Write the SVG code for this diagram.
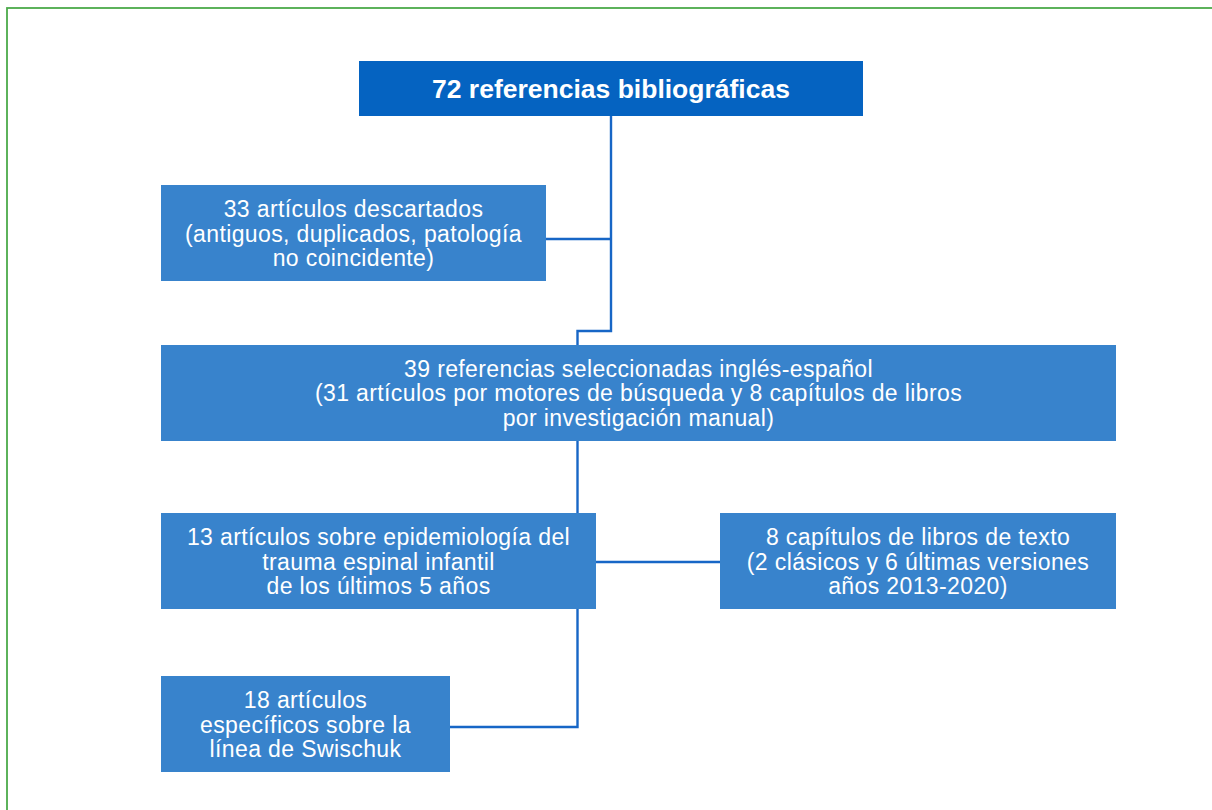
<svg xmlns="http://www.w3.org/2000/svg" width="1212" height="810" viewBox="0 0 1212 810">
<style>
.box{fill:#3883cc}
.top{fill:#0563c1}
.t{font-family:"Liberation Sans",Arial,sans-serif;font-size:23px;letter-spacing:0.38px;fill:#ffffff;text-anchor:middle}
.tb{font-family:"Liberation Sans",Arial,sans-serif;font-size:26.5px;font-weight:bold;fill:#ffffff;text-anchor:middle}
.c{fill:none;stroke:#1766c6;stroke-width:2.4}
</style>
<rect x="7" y="8" width="1230" height="830" fill="#ffffff" stroke="#4caa4a" stroke-width="1.8"/>
<g id="connectors">
<polyline class="c" points="611,116 611,331 577.5,331 577.5,345"/>
<line class="c" x1="546" y1="239" x2="611" y2="239"/>
<line class="c" x1="577.5" y1="441" x2="577.5" y2="513"/>
<line class="c" x1="596" y1="562" x2="720" y2="562"/>
<polyline class="c" points="577.5,609 577.5,727 450,727"/>
</g>
<g id="node-72">
<rect class="top" x="359" y="61" width="504" height="55"/>
<text class="tb" x="611" y="98">72 referencias bibliográficas</text>
</g>
<g id="node-33">
<rect class="box" x="161" y="185" width="385" height="96"/>
<text class="t" x="353.5" y="217">33 artículos descartados</text>
<text class="t" x="353.5" y="242">(antiguos, duplicados, patología</text>
<text class="t" x="353.5" y="266">no coincidente)</text>
</g>
<g id="node-39">
<rect class="box" x="161" y="345" width="955" height="96"/>
<text class="t" x="638.5" y="377">39 referencias seleccionadas inglés-español</text>
<text class="t" x="638.5" y="401">(31 artículos por motores de búsqueda y 8 capítulos de libros</text>
<text class="t" x="638.5" y="426">por investigación manual)</text>
</g>
<g id="node-13">
<rect class="box" x="161" y="513" width="435" height="96"/>
<text class="t" x="378.5" y="545">13 artículos sobre epidemiología del</text>
<text class="t" x="378.5" y="570">trauma espinal infantil</text>
<text class="t" x="378.5" y="594">de los últimos 5 años</text>
</g>
<g id="node-8">
<rect class="box" x="720" y="513" width="396" height="96"/>
<text class="t" x="918" y="545">8 capítulos de libros de texto</text>
<text class="t" x="918" y="570">(2 clásicos y 6 últimas versiones</text>
<text class="t" x="918" y="594">años 2013-2020)</text>
</g>
<g id="node-18">
<rect class="box" x="161" y="676" width="289" height="96"/>
<text class="t" x="305.5" y="708">18 artículos</text>
<text class="t" x="305.5" y="733">específicos sobre la</text>
<text class="t" x="305.5" y="757">línea de Swischuk</text>
</g>
</svg>
